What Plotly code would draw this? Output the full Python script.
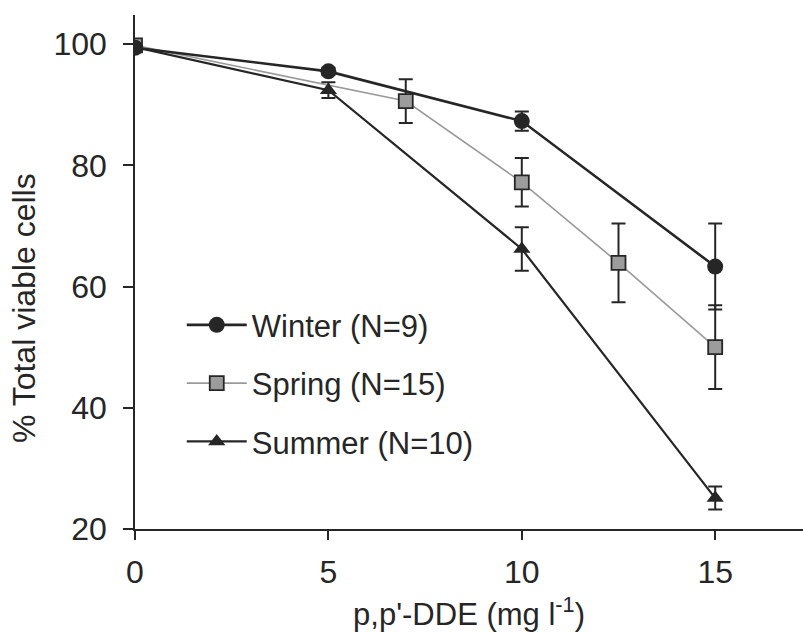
import plotly.graph_objects as go

# p,p'-DDE concentration (mg/l) and % total viable cells per season
winter_x = [0, 5, 10, 15]
winter_y = [99.4, 95.5, 87.3, 63.3]
winter_err = [0.5, 0.6, 1.6, 7.1]

spring_x = [0, 7, 10, 12.5, 15]
spring_y = [99.8, 90.6, 77.2, 63.9, 50.0]
spring_err = [0.6, 3.6, 4.0, 6.5, 6.9]

summer_x = [0, 5, 10, 15]
summer_y = [99.5, 92.4, 66.2, 25.1]
summer_err = [0.5, 1.3, 3.6, 1.9]

x_ticks = [0, 5, 10, 15]
y_ticks = [20, 40, 60, 80, 100]

FONT = "Liberation Sans, Arial, sans-serif"
INK = "#262626"

def err(vals):
    return dict(type="data", array=vals, visible=True, color=INK,
                thickness=2, width=7)

fig = go.Figure()

fig.add_trace(go.Scatter(
    x=spring_x, y=spring_y, name="Spring (N=15)", mode="lines+markers",
    legendgroup="spring", legendrank=2,
    line=dict(color="#9a9a9a", width=1.6),
    marker=dict(symbol="square", size=14, color="#9c9c9c",
                line=dict(color=INK, width=1.8)),
    error_y=err(spring_err),
))
fig.add_trace(go.Scatter(
    x=summer_x, y=summer_y, name="Summer (N=10)", mode="lines+markers",
    legendgroup="summer", legendrank=3,
    line=dict(color=INK, width=2.2),
    marker=dict(symbol="triangle-up", size=15, color=INK),
    error_y=err(summer_err),
))
fig.add_trace(go.Scatter(
    x=winter_x, y=winter_y, name="Winter (N=9)", mode="lines+markers",
    legendgroup="winter", legendrank=1,
    line=dict(color=INK, width=2.6),
    marker=dict(symbol="circle", size=16, color=INK),
    error_y=err(winter_err),
))

fig.update_layout(
    width=803, height=632, autosize=False,
    margin=dict(l=135, r=0, t=15, b=103),
    paper_bgcolor="white", plot_bgcolor="white",
    font=dict(family=FONT, color=INK, size=32),
    showlegend=True,
    legend=dict(
        x=0.07, y=0.449, xanchor="left", yanchor="top",
        bgcolor="rgba(0,0,0,0)", itemwidth=60,
        tracegroupgap=15, font=dict(size=31, family=FONT, color=INK),
        traceorder="grouped",
    ),
    xaxis=dict(
        range=[0, 17.27], tickvals=x_ticks, ticktext=[str(v) for v in x_ticks],
        showline=True, linecolor=INK, linewidth=1.5,
        ticks="outside", ticklen=9, tickwidth=1.5, tickcolor=INK,
        ticklabelstandoff=5, showgrid=False, zeroline=False,
        tickfont=dict(size=32, family=FONT, color=INK),
        title=dict(text="p,p'-DDE (mg l<sup>-1</sup>)",
                   font=dict(size=31, family=FONT, color=INK), standoff=16),
    ),
    yaxis=dict(
        range=[20, 104.8], tickvals=y_ticks, ticktext=[str(v) for v in y_ticks],
        showline=True, linecolor=INK, linewidth=1.5,
        ticks="outside", ticklen=10, tickwidth=1.5, tickcolor=INK,
        ticklabelstandoff=10, showgrid=False, zeroline=False,
        tickfont=dict(size=32, family=FONT, color=INK),
    ),
    annotations=[dict(
        text="% Total viable cells", textangle=-90,
        xref="paper", yref="paper", x=-0.166, y=0.43,
        xanchor="center", yanchor="middle", showarrow=False,
        font=dict(size=32, family=FONT, color=INK),
    )],
)

fig.write_html("out.html")
